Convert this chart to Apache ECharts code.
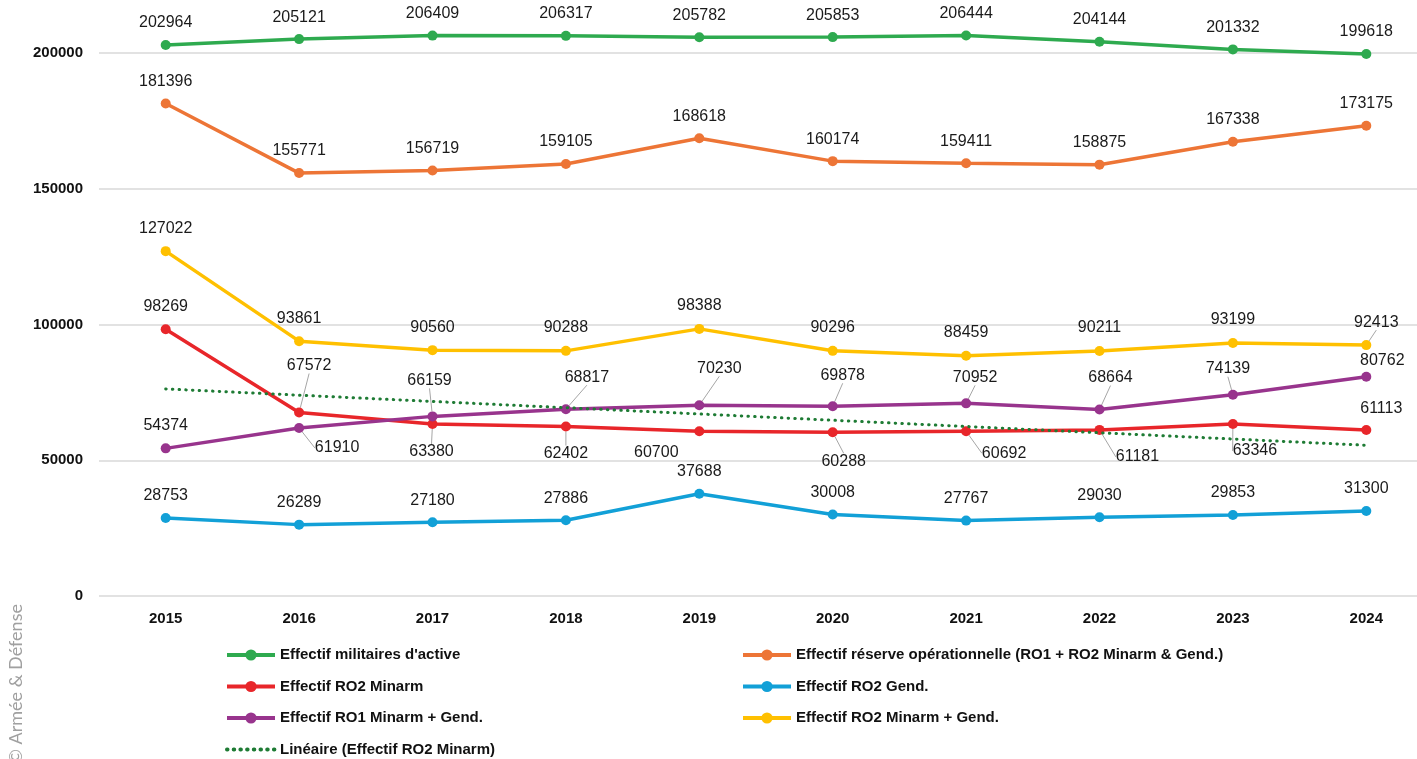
<!DOCTYPE html>
<html>
<head>
<meta charset="utf-8">
<script src="https://cdn.jsdelivr.net/npm/echarts@6/dist/echarts.min.js"></script>
<style>html,body{margin:0;padding:0;background:#fff;}#c{width:1417px;height:759px;}</style>
</head>
<body>
<div id="c"></div>
<script>
const years = ['2015','2016','2017','2018','2019','2020','2021','2022','2023','2024'];
const activeMil = [202964,205121,206409,206317,205782,205853,206444,204144,201332,199618];
const reserveOp = [181396,155771,156719,159105,168618,160174,159411,158875,167338,173175];
const ro2Minarm = [98269,67572,63380,62402,60700,60288,60692,61181,63346,61113];
const ro2Gend = [28753,26289,27180,27886,37688,30008,27767,29030,29853,31300];
const ro1MinGend = [54374,61910,66159,68817,70230,69878,70952,68664,74139,80762];
const ro2MinGend = [127022,93861,90560,90288,98388,90296,88459,90211,93199,92413];
// linear trend of RO2 Minarm, endpoints
const trendRO2Minarm = [76272,null,null,null,null,null,null,null,null,55516];

const names = {
  active: "Effectif militaires d'active",
  reserve: "Effectif réserve opérationnelle (RO1 + RO2 Minarm & Gend.)",
  ro2m: "Effectif RO2 Minarm",
  ro2g: "Effectif RO2 Gend.",
  ro1: "Effectif RO1 Minarm + Gend.",
  ro2mg: "Effectif RO2 Minarm + Gend.",
  trend: "Linéaire (Effectif RO2 Minarm)"
};

// label placement (label centre relative to point centre), leader line flag ('e' = elbow)
const D = [0,-23];
const redLabelPos = [D,[10,-47],[-1,28],[0,27],[-43,21],[11,29],[38,22],[38,27],[22,27],[15,-21]];
const redLeader = [0,1,1,1,0,1,'e','e',1,0];
const purpleLabelPos = [D,[38,20],[-3,-36],[21,-32],[20,-37],[10,-31],[9,-26],[11,-32],[-5,-26],[16,-16]];
const purpleLeader = [0,'e',1,1,1,1,1,1,1,0];
const yellowLabelPos = [D,D,D,D,D,D,D,D,D,[10,-23]];
const yellowLeader = [0,0,0,0,0,0,0,0,0,1];

const FONT = 'Liberation Sans, Arial, sans-serif';
const labelBase = {show:true, fontFamily:FONT, fontSize:16, color:'#1a1a1a', position:'top', distance:9};

function layoutFor(pos, leader){
  return function(p){
    const i = p.dataIndex;
    const cx = p.rect.x + p.rect.width/2, cy = p.rect.y + p.rect.height/2;
    const o = pos[i];
    const lx = cx + o[0], ly = cy + o[1];
    const res = {x: lx, y: ly, align:'center', verticalAlign:'middle'};
    if (leader[i] === 'e') {
      const w = p.labelRect.width;
      res.labelLinePoints = [[cx, cy + 5],[cx, ly],[lx - w/2 - 4, ly]];
    }
    return res;
  };
}
function buildData(vals, leader){
  return vals.map((v,i)=>({value:v, labelLine:{show: !!leader[i]}}));
}
function lineSeries(name, data, color, extra){
  return Object.assign({
    name, type:'line', data, clip:false,
    symbol:'circle', symbolSize:10,
    lineStyle:{color, width:3.5}, itemStyle:{color},
    label: labelBase,
    labelLine:{lineStyle:{color:'#a6a6a6', width:1}},
    emphasis:{disabled:true}, animation:false, z:3
  }, extra || {});
}

const series = [
  lineSeries(names.active, activeMil, '#2EAA4F'),
  lineSeries(names.reserve, reserveOp, '#ED7536'),
  lineSeries(names.ro2m, buildData(ro2Minarm, redLeader), '#E8262A', {labelLayout: layoutFor(redLabelPos, redLeader)}),
  lineSeries(names.ro2g, ro2Gend, '#12A0D7'),
  lineSeries(names.ro1, buildData(ro1MinGend, purpleLeader), '#98348D', {labelLayout: layoutFor(purpleLabelPos, purpleLeader)}),
  lineSeries(names.ro2mg, buildData(ro2MinGend, yellowLeader), '#FFC000', {labelLayout: layoutFor(yellowLabelPos, yellowLeader)}),
  {
    name: names.trend, type:'line', data: trendRO2Minarm, connectNulls:true, clip:false,
    symbol:'none', lineStyle:{color:'#1E7B34', width:3, type:[0.5,6.2], cap:'round'},
    itemStyle:{color:'#1E7B34'}, emphasis:{disabled:true}, animation:false, z:4
  }
];

const legendText = {fontFamily:FONT, fontSize:15, fontWeight:'bold', color:'#111', lineHeight:18};
const legendCommon = {orient:'vertical', top:646, padding:0, itemWidth:48, itemHeight:14, itemGap:13.5,
  textStyle:legendText, selectedMode:false, lineStyle:{width:4}};
const chart = echarts.init(document.getElementById('c'), null, {renderer:'canvas'});
chart.setOption({
  animation:false,
  backgroundColor:'#fff',
  grid:{left:99, top:53, height:543, width:1334, containLabel:false, outerBoundsMode:'none'},
  xAxis:{
    type:'category', data: years, boundaryGap:true,
    axisLine:{show:false}, axisTick:{show:false},
    axisLabel:{fontFamily:FONT, fontSize:15, fontWeight:'bold', color:'#111', margin:15}
  },
  yAxis:{
    type:'value', min:0, max:200000, interval:50000,
    axisLine:{show:false}, axisTick:{show:false},
    splitLine:{lineStyle:{color:'#d9d9d9', width:1.5}},
    axisLabel:{fontFamily:FONT, fontSize:15, fontWeight:'bold', color:'#111', margin:16,
      formatter: v => String(v)}
  },
  legend:[
    Object.assign({left:225, data:[names.active, names.ro2m, names.ro1,
      {name:names.trend, itemStyle:{opacity:0}}]}, legendCommon),
    Object.assign({left:741, data:[names.reserve, names.ro2g, names.ro2mg]}, legendCommon)
  ],
  graphic:[{
    type:'text', x:16, y:764, rotation:Math.PI/2,
    style:{text:'© Armée & Défense', fontFamily:'Lato, Open Sans, sans-serif', fontSize:18, fill:'#a0a0a0', align:'left', verticalAlign:'middle'}
  }],
  series
});
</script>
</body>
</html>
